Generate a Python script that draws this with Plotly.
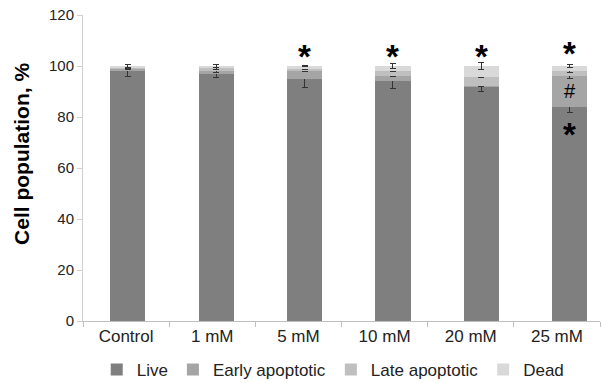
import plotly.graph_objects as go

categories = ["Control", "1 mM", "5 mM", "10 mM", "20 mM", "25 mM"]
live = [98.3, 97.0, 95.0, 94.0, 92.0, 84.0]
early = [0.6, 1.0, 3.3, 2.2, 0.3, 12.0]
late = [0.5, 1.2, 0.7, 2.0, 3.5, 2.2]
dead = [0.6, 0.8, 1.0, 1.8, 4.2, 1.8]
live_err = [2.3, 1.5, 3.4, 2.8, 2.1, 2.2]
early_err = [0.3, 0.4, 0.3, 0.5, 0.3, 0.8]
late_err = [0.3, 0.4, 0.3, 0.3, 0.3, 0.8]
dead_err = [0.4, 0.5, 0.3, 0.8, 1.4, 0.7]

series_names = ["Live", "Early apoptotic", "Late apoptotic", "Dead"]
series_vals = [live, early, late, dead]
series_errs = [live_err, early_err, late_err, dead_err]
colors = ["#7f7f7f", "#a5a5a5", "#bfbfbf", "#d9d9d9"]

# significance markers: (category, y value, text)
marker_cats = ["5 mM", "10 mM", "20 mM", "25 mM", "25 mM", "25 mM"]
marker_y = [105.6, 105.6, 105.6, 107.0, 90.2, 75.0]
marker_txt = ["*", "*", "*", "*", "#", "*"]

fig = go.Figure()
# invisible trace to carry category labels on the primary x axis
fig.add_trace(go.Scatter(x=categories, y=[0] * len(categories), mode="markers",
                         marker=dict(opacity=0), showlegend=False, hoverinfo="skip"))
for name, vals, errs, c in zip(series_names, series_vals, series_errs, colors):
    fig.add_trace(go.Bar(
        x=categories, y=vals, name=name, xaxis="x2",
        marker=dict(color=c, line=dict(width=0)),
        error_y=dict(type="data", array=errs, color="#333333", thickness=1, width=3),
    ))

for cx, cy, t in zip(marker_cats, marker_y, marker_txt):
    if t == "*":
        fig.add_annotation(x=cx, y=cy, xref="x2", yref="y", text="<b>*</b>", showarrow=False,
                           font=dict(size=33, color="black", family="Liberation Sans"),
                           yshift=-5)
    else:
        fig.add_annotation(x=cx, y=cy, xref="x2", yref="y", text=t, showarrow=False,
                           font=dict(size=20, color="black", family="Liberation Sans"))

# y-axis title as rotated text
fig.add_annotation(text="<b>Cell population, %</b>", xref="paper", yref="paper",
                   x=-0.118, y=0.546, textangle=-90, showarrow=False,
                   xanchor="center", yanchor="middle",
                   font=dict(size=21, color="black", family="Liberation Sans"))

fig.update_layout(
    barmode="stack",
    bargap=0.604,
    width=602, height=383,
    margin=dict(l=83, r=2, t=15, b=62),
    plot_bgcolor="white", paper_bgcolor="white",
    font=dict(family="Liberation Sans", size=15, color="#222222"),
    showlegend=True,
    legend=dict(orientation="h", x=0.484, xanchor="center", yref="container", y=0.034,
                yanchor="middle", font=dict(size=17), itemwidth=30, traceorder="normal"),
    xaxis=dict(type="category", range=[-0.5, 5.5], showline=True, linecolor="#bfbfbf",
               ticks="outside", tickson="boundaries", ticklen=5, tickcolor="#bfbfbf",
               tickfont=dict(size=17), showgrid=False, fixedrange=True),
    xaxis2=dict(type="category", overlaying="x", range=[-0.504, 5.34], visible=False,
                showgrid=False),
    yaxis=dict(range=[0, 120], dtick=20, showline=True, linecolor="#d0d0d0",
               ticks="outside", ticklen=5, tickcolor="#d0d0d0", showgrid=False,
               zeroline=False, tickfont=dict(size=15)),
)

fig.write_html("out.html")
